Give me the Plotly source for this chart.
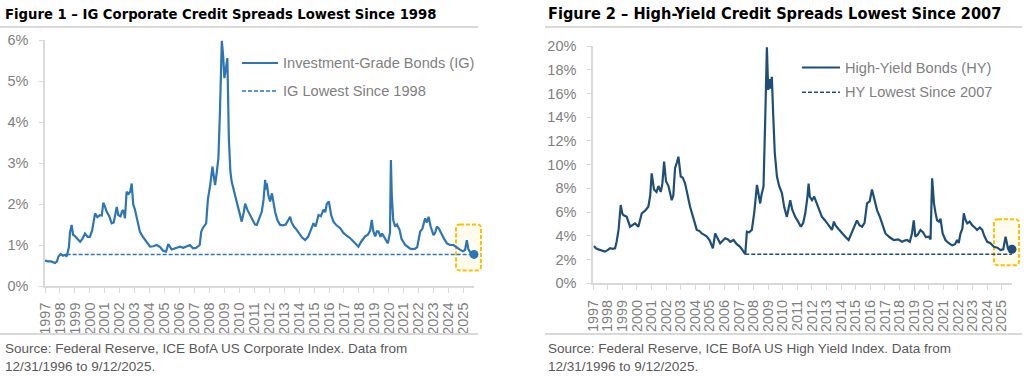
import plotly.graph_objects as go

# ---------------- data ----------------
ig_dates = [1997.0, 1997.2, 1997.4, 1997.55, 1997.67, 1997.8, 1997.9, 1998.05, 1998.2, 1998.35,
            1998.45, 1998.6, 1998.67, 1998.78, 1998.88, 1999.0, 1999.15, 1999.35, 1999.5, 1999.68,
            1999.85, 2000.0, 2000.15, 2000.35, 2000.5, 2000.68, 2000.8, 2000.9, 2001.0, 2001.13,
            2001.3, 2001.46, 2001.6, 2001.8, 2001.9, 2002.05, 2002.15, 2002.24, 2002.35, 2002.46,
            2002.6, 2002.7, 2002.8, 2002.9, 2003.02, 2003.13, 2003.25, 2003.35, 2003.55, 2003.8,
            2004.03, 2004.25, 2004.47, 2004.7, 2004.9, 2005.1, 2005.25, 2005.47, 2005.75, 2006.03,
            2006.25, 2006.47, 2006.7, 2006.9, 2007.1, 2007.35, 2007.45, 2007.55, 2007.68, 2007.78,
            2007.9, 2008.05, 2008.2, 2008.3, 2008.38, 2008.5, 2008.6, 2008.7, 2008.78, 2008.83,
            2008.92, 2009.0, 2009.1, 2009.2, 2009.3, 2009.4, 2009.49, 2009.65, 2009.83, 2010.0,
            2010.16, 2010.3, 2010.39, 2010.55, 2010.72, 2010.9, 2011.05, 2011.17, 2011.35, 2011.5,
            2011.62, 2011.73, 2011.78, 2011.84, 2011.95, 2012.06, 2012.18, 2012.28, 2012.4, 2012.55,
            2012.73, 2012.9, 2013.1, 2013.3, 2013.4, 2013.5, 2013.65, 2013.84, 2014.0, 2014.2,
            2014.4, 2014.6, 2014.8, 2014.96, 2015.1, 2015.3, 2015.45, 2015.63, 2015.75, 2015.85,
            2015.99, 2016.15, 2016.3, 2016.5, 2016.75, 2016.95, 2017.2, 2017.41, 2017.6, 2017.8,
            2017.97, 2018.15, 2018.3, 2018.42, 2018.6, 2018.75, 2018.86, 2018.95, 2019.09, 2019.2,
            2019.31, 2019.45, 2019.55, 2019.65, 2019.8, 2019.94, 2020.08, 2020.14, 2020.2, 2020.3,
            2020.43, 2020.55, 2020.72, 2020.85, 2021.1, 2021.25, 2021.43, 2021.6, 2021.77, 2021.9,
            2022.1, 2022.25, 2022.35, 2022.43, 2022.55, 2022.66, 2022.8, 2022.99, 2023.1, 2023.22,
            2023.35, 2023.55, 2023.7, 2023.89, 2024.1, 2024.33, 2024.5, 2024.65, 2024.78, 2024.95,
            2025.1, 2025.22, 2025.32, 2025.45, 2025.7]
ig_values = [0.62, 0.60, 0.60, 0.58, 0.56, 0.60, 0.72, 0.78, 0.74, 0.76,
             0.72, 0.95, 1.30, 1.49, 1.25, 1.22, 1.15, 1.08, 1.15, 1.28,
             1.20, 1.20, 1.35, 1.77, 1.68, 1.73, 1.72, 2.03, 1.95, 1.81,
             1.70, 1.53, 1.55, 1.93, 1.73, 1.70, 1.82, 1.85, 1.65, 2.30,
             2.25, 2.30, 2.50, 2.00, 1.86, 1.69, 1.50, 1.32, 1.20, 1.08,
             0.96, 0.97, 1.00, 0.95, 0.86, 0.84, 1.02, 0.89, 0.93, 0.96,
             0.93, 0.97, 1.00, 0.92, 0.93, 1.00, 1.32, 1.41, 1.49, 1.53,
             2.12, 2.45, 2.91, 2.60, 2.46, 2.80, 3.12, 4.20, 5.40, 5.98,
             5.60, 5.07, 5.30, 5.56, 3.60, 2.80, 2.54, 2.30, 2.06, 1.75,
             1.57, 1.80, 2.01, 1.85, 1.73, 1.62, 1.50, 1.49, 1.65, 1.81,
             2.10, 2.59, 2.35, 2.50, 2.20, 2.06, 2.26, 2.05, 1.80, 1.60,
             1.49, 1.48, 1.50, 1.62, 1.69, 1.55, 1.45, 1.37, 1.28, 1.18,
             1.12, 1.20, 1.38, 1.53, 1.45, 1.73, 1.70, 1.86, 1.80, 2.00,
             2.06, 1.72, 1.57, 1.48, 1.41, 1.30, 1.22, 1.17, 1.10, 1.03,
             0.96, 1.08, 1.15, 1.21, 1.25, 1.35, 1.61, 1.35, 1.21, 1.33,
             1.33, 1.20, 1.28, 1.21, 1.10, 1.04, 1.30, 3.07, 2.20, 1.60,
             1.45, 1.50, 1.37, 1.15, 1.00, 0.95, 0.91, 0.90, 0.91, 0.95,
             1.33, 1.40, 1.55, 1.65, 1.55, 1.69, 1.45, 1.24, 1.30, 1.45,
             1.40, 1.24, 1.15, 1.04, 1.00, 1.00, 0.95, 0.92, 0.88, 0.85,
             0.88, 1.12, 0.90, 0.82, 0.77]
ig_low_value = 0.77
ig_low_start = 1998.45

hy_dates = [1997.07, 1997.2, 1997.36, 1997.6, 1997.82, 1998.0, 1998.17, 1998.35, 1998.51, 1998.62,
            1998.75, 1998.9, 1999.0, 1999.08, 1999.31, 1999.54, 1999.7, 1999.88, 2000.11, 2000.34,
            2000.55, 2000.79, 2000.92, 2001.02, 2001.18, 2001.35, 2001.48, 2001.64, 2001.75, 2001.87,
            2002.0, 2002.17, 2002.3, 2002.39, 2002.5, 2002.62, 2002.75, 2002.85, 2003.01, 2003.15,
            2003.31, 2003.45, 2003.65, 2003.85, 2004.11, 2004.3, 2004.45, 2004.6, 2004.8, 2005.0,
            2005.21, 2005.37, 2005.55, 2005.71, 2005.9, 2006.05, 2006.25, 2006.4, 2006.63, 2006.85,
            2007.08, 2007.25, 2007.43, 2007.54, 2007.7, 2007.88, 2008.05, 2008.23, 2008.35, 2008.45,
            2008.55, 2008.68, 2008.8, 2008.91, 2009.0, 2009.07, 2009.15, 2009.25, 2009.35, 2009.45,
            2009.6, 2009.75, 2009.94, 2010.1, 2010.28, 2010.4, 2010.51, 2010.65, 2010.85, 2011.05,
            2011.24, 2011.4, 2011.54, 2011.68, 2011.77, 2011.85, 2012.0, 2012.15, 2012.34, 2012.5,
            2012.68, 2012.9, 2013.1, 2013.37, 2013.5, 2013.6, 2013.8, 2014.0, 2014.28, 2014.51,
            2014.7, 2014.9, 2015.08, 2015.25, 2015.43, 2015.6, 2015.77, 2015.95, 2016.11, 2016.25,
            2016.46, 2016.65, 2016.85, 2017.03, 2017.3, 2017.6, 2017.9, 2018.17, 2018.35, 2018.51,
            2018.7, 2018.85, 2018.97, 2019.08, 2019.25, 2019.43, 2019.6, 2019.8, 2020.0, 2020.12,
            2020.23, 2020.35, 2020.45, 2020.57, 2020.7, 2020.8, 2020.95, 2021.14, 2021.35, 2021.6,
            2021.8, 2021.94, 2022.05, 2022.17, 2022.3, 2022.4, 2022.5, 2022.63, 2022.8, 2022.97,
            2023.15, 2023.31, 2023.5, 2023.66, 2023.8, 2024.0, 2024.2, 2024.46, 2024.7, 2024.91,
            2025.1, 2025.26, 2025.42, 2025.55, 2025.7]
hy_values = [3.14, 2.95, 2.86, 2.75, 2.67, 2.80, 2.95, 2.90, 2.95, 3.50,
             4.50, 6.60, 5.90, 5.75, 5.60, 4.77, 4.90, 5.05, 4.77, 5.90,
             6.10, 6.45, 7.40, 9.27, 7.90, 7.70, 8.20, 7.70, 8.40, 10.25,
             8.60, 8.20, 7.50, 7.00, 7.40, 9.70, 10.20, 10.67, 9.00, 8.90,
             8.40, 7.50, 6.45, 5.60, 4.50, 4.40, 4.20, 4.10, 3.93, 3.60,
             2.95, 4.20, 3.70, 3.37, 3.60, 3.79, 3.70, 3.50, 3.65, 3.30,
             3.08, 2.80, 2.45, 4.35, 4.30, 4.50, 6.00, 8.30, 7.20, 6.73,
             7.50, 8.15, 14.00, 19.90, 16.30, 17.20, 16.40, 17.40, 14.00, 11.00,
             9.00, 8.20, 7.60, 6.40, 5.60, 6.20, 7.00, 6.20, 5.60, 5.20,
             4.77, 5.10, 5.90, 7.20, 8.40, 7.30, 7.00, 7.30, 6.73, 6.20,
             5.60, 5.30, 5.00, 4.50, 5.20, 4.90, 4.60, 4.30, 3.93, 3.65,
             4.20, 4.90, 5.30, 4.90, 4.77, 5.10, 6.73, 6.90, 7.90, 7.20,
             6.15, 5.60, 4.90, 4.20, 3.90, 3.65, 3.70, 3.50, 3.60, 3.65,
             3.50, 4.20, 5.30, 3.93, 4.10, 4.50, 4.30, 3.90, 3.93, 3.70,
             8.85, 6.80, 6.00, 5.30, 5.20, 5.45, 4.20, 3.65, 3.40, 3.20,
             3.30, 3.65, 3.40, 4.20, 4.60, 5.90, 5.40, 5.05, 5.20, 4.90,
             4.70, 4.50, 4.70, 4.50, 4.00, 3.50, 3.40, 3.08, 3.00, 2.80,
             2.86, 3.93, 2.95, 2.85, 2.87]
hy_low_value = 2.45
hy_low_start = 2007.43

years = list(range(1997, 2026))
ig_yticks = [0, 1, 2, 3, 4, 5, 6]
hy_yticks = [0, 2, 4, 6, 8, 10, 12, 14, 16, 18, 20]

titles = ["Figure 1 – IG Corporate Credit Spreads Lowest Since 1998",
          "Figure 2 – High-Yield Credit Spreads Lowest Since 2007"]
legend_ig = ["Investment-Grade Bonds (IG)", "IG Lowest Since 1998"]
legend_hy = ["High-Yield Bonds (HY)", "HY Lowest Since 2007"]
sources = ["Source: Federal Reserve, ICE BofA US Corporate Index. Data from<br>12/31/1996 to 9/12/2025.",
           "Source: Federal Reserve, ICE BofA US High Yield Index. Data from<br>12/31/1996 to 9/12/2025."]

# ---------------- styling / layout ----------------
W, H = 1024, 381
IG_COLOR = "#2E75B6"
HY_COLOR = "#1F4E79"
GOLD = "#FFC000"
AXIS_GRAY = "#D9D9D9"
TICK_FONT = dict(family="Liberation Sans, Arial, sans-serif", size=14.5, color="#7F7F7F")
TITLE_FAMILY = "DejaVu Sans Condensed, Liberation Sans Narrow, sans-serif"
TITLE_SIZES = [14.7, 16.2]
SRC_FONT = dict(family="Liberation Sans, Arial, sans-serif", size=13.5, color="#595959")
LEG_FONT = dict(family="Liberation Sans, Arial, sans-serif", size=14.6, color="#7F7F7F")
XEND = 2025.7

def px(x):
    return x / W

def py(y):
    return 1 - y / H

ig_dom_x = [px(45), px(474)]
ig_dom_y = [py(286), py(40)]
hy_dom_x = [px(593), px(1012)]
hy_dom_y = [py(283.3), py(46)]

fig = go.Figure()

# IG
fig.add_trace(go.Scatter(x=ig_dates, y=ig_values, mode="lines", xaxis="x", yaxis="y",
                         line=dict(color=IG_COLOR, width=2.2), showlegend=False))
fig.add_trace(go.Scatter(x=[ig_low_start, XEND], y=[ig_low_value, ig_low_value], mode="lines",
                         xaxis="x", yaxis="y", line=dict(color=IG_COLOR, width=1.5, dash="4px,2px"),
                         showlegend=False))
# HY
fig.add_trace(go.Scatter(x=hy_dates, y=hy_values, mode="lines", xaxis="x2", yaxis="y2",
                         line=dict(color=HY_COLOR, width=2.2), showlegend=False))
fig.add_trace(go.Scatter(x=[hy_low_start, XEND], y=[hy_low_value, hy_low_value], mode="lines",
                         xaxis="x2", yaxis="y2", line=dict(color=HY_COLOR, width=1.5, dash="4px,2px"),
                         showlegend=False))

def xaxis_cfg(dom, anchor):
    return dict(domain=dom, anchor=anchor, range=[1997, XEND], tickmode="array",
                tickvals=years, ticktext=[str(v) for v in years], tickangle=-90,
                showgrid=False, zeroline=False, showline=True, linecolor=AXIS_GRAY, linewidth=1.5,
                ticks="outside", ticklen=5, tickcolor=AXIS_GRAY, tickwidth=1,
                tickfont=TICK_FONT, ticklabelstandoff=4, automargin=False, fixedrange=True)

def yaxis_cfg(dom, anchor, rng, vals):
    return dict(domain=dom, anchor=anchor, range=rng, tickmode="array", tickvals=vals,
                ticktext=[f"{v}%" for v in vals], showgrid=False, zeroline=False,
                showline=True, linecolor=AXIS_GRAY, linewidth=1.5, ticks="outside",
                ticklen=4, tickcolor=AXIS_GRAY, tickfont=TICK_FONT, ticklabelstandoff=8,
                automargin=False, fixedrange=True)

shapes = []
annotations = []

# separators
for x0, x1 in [(0, 478), (545, 1022)]:
    for yy in (27, 334):
        shapes.append(dict(type="line", xref="paper", yref="paper", x0=px(x0), x1=px(x1),
                           y0=py(yy), y1=py(yy), line=dict(color=AXIS_GRAY, width=2)))

# titles and sources
for xs, t, s, fs in [(5, titles[0], sources[0], TITLE_SIZES[0]),
                     (548, titles[1], sources[1], TITLE_SIZES[1])]:
    annotations.append(dict(text=t, xref="paper", yref="paper", x=px(xs - 1), y=py(14),
                            xanchor="left", yanchor="middle", showarrow=False,
                            font=dict(family=TITLE_FAMILY, size=fs, color="#000000", weight="bold"),
                            borderpad=0))
    annotations.append(dict(text=s, xref="paper", yref="paper", x=px(xs - 1), y=py(340),
                            xanchor="left", yanchor="top", showarrow=False, font=SRC_FONT,
                            align="left", borderpad=0))

# manual legends
for (lx0, lx1, tx, ys, labels, col) in [(242, 278, 283, (63, 91), legend_ig, IG_COLOR),
                                         (802, 840, 845, (67.5, 92.3), legend_hy, HY_COLOR)]:
    shapes.append(dict(type="line", xref="paper", yref="paper", x0=px(lx0), x1=px(lx1),
                       y0=py(ys[0]), y1=py(ys[0]), line=dict(color=col, width=2.2)))
    shapes.append(dict(type="line", xref="paper", yref="paper", x0=px(lx0), x1=px(lx1),
                       y0=py(ys[1]), y1=py(ys[1]), line=dict(color=col, width=1.5, dash="4px,2px")))
    for yy, lab in zip(ys, labels):
        annotations.append(dict(text=lab, xref="paper", yref="paper", x=px(tx - 1), y=py(yy),
                                xanchor="left", yanchor="middle", showarrow=False, font=LEG_FONT,
                                borderpad=0))

# highlight boxes around the latest reading (converted to paper coords)
def to_paper(x, y, domx, domy, xr, yr):
    fx = domx[0] + (x - xr[0]) / (xr[1] - xr[0]) * (domx[1] - domx[0])
    fy = domy[0] + (y - yr[0]) / (yr[1] - yr[0]) * (domy[1] - domy[0])
    return fx, fy

def rounded_box(cx, cy, left, right, up, down, r=4):
    x0, x1 = cx - left / W, cx + right / W
    y0, y1 = cy - down / H, cy + up / H
    rx, ry = r / W, r / H
    return (f"M {x0+rx},{y1} L {x1-rx},{y1} Q {x1},{y1} {x1},{y1-ry} L {x1},{y0+ry} "
            f"Q {x1},{y0} {x1-rx},{y0} L {x0+rx},{y0} Q {x0},{y0} {x0},{y0+ry} "
            f"L {x0},{y1-ry} Q {x0},{y1} {x0+rx},{y1} Z")

ig_last = to_paper(ig_dates[-1], ig_values[-1], ig_dom_x, ig_dom_y, [1997, XEND], [0, 6])
hy_last = to_paper(hy_dates[-1], hy_values[-1], hy_dom_x, hy_dom_y, [1997, XEND], [0, 20])
for (cx, cy) in (ig_last, hy_last):
    shapes.append(dict(type="path", xref="paper", yref="paper",
                       path=rounded_box(cx, cy, 18, 7, 30, 16),
                       line=dict(color=GOLD, width=2, dash="4px,2px"),
                       fillcolor="rgba(255,192,0,0.07)", layer="below"))

# end dots
fig.add_trace(go.Scatter(x=[ig_dates[-1]], y=[ig_values[-1]], mode="markers", xaxis="x", yaxis="y",
                         marker=dict(color=IG_COLOR, size=9), showlegend=False, cliponaxis=False))
fig.add_trace(go.Scatter(x=[hy_dates[-1]], y=[hy_values[-1]], mode="markers", xaxis="x2", yaxis="y2",
                         marker=dict(color=HY_COLOR, size=9), showlegend=False, cliponaxis=False))

fig.update_layout(
    width=W, height=H, margin=dict(l=0, r=0, t=0, b=0, pad=0), autosize=False,
    paper_bgcolor="white", plot_bgcolor="rgba(0,0,0,0)", hovermode=False,
    xaxis=xaxis_cfg(ig_dom_x, "y"), yaxis=yaxis_cfg(ig_dom_y, "x", [0, 6], ig_yticks),
    xaxis2=xaxis_cfg(hy_dom_x, "y2"), yaxis2=yaxis_cfg(hy_dom_y, "x2", [0, 20], hy_yticks),
    shapes=shapes, annotations=annotations, showlegend=False,
)

fig.write_html("out.html", config={"displayModeBar": False},
               post_script="document.body.style.margin='0';document.body.style.overflow='hidden';")
